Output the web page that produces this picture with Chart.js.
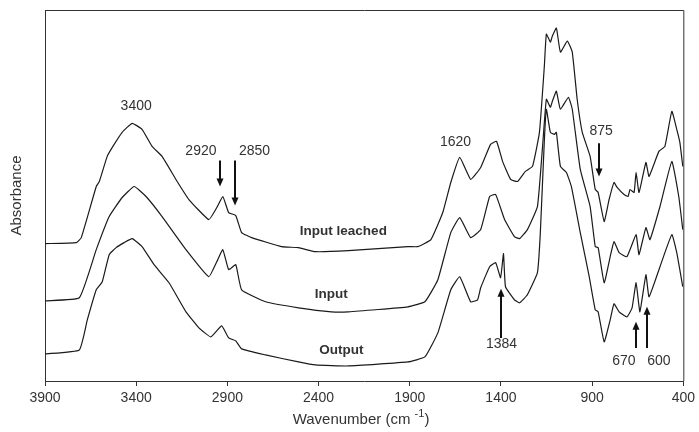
<!DOCTYPE html>
<html>
<head>
<meta charset="utf-8">
<script src="https://cdn.jsdelivr.net/npm/chart.js@4.4.1/dist/chart.umd.min.js"></script>
<style>
  html, body { margin: 0; padding: 0; background: #fff; }
  #wrap { width: 699px; height: 432px; position: relative; }
</style>
</head>
<body>
<div id="wrap"><canvas id="ftir"></canvas></div>
<script>
// spectra (wavenumber in cm-1, absorbance offset units)
const leachedWn = [3900, 3728, 3701, 3619, 3602, 3559, 3531, 3477, 3422, 3368, 3313, 3258, 3182, 3111, 3002, 2958, 2925, 2893, 2854, 2822, 2767, 2603, 2510, 2418, 2237, 1910, 1856, 1784, 1719, 1675, 1626, 1566, 1511, 1457, 1424, 1391, 1347, 1309, 1266, 1227, 1189, 1162, 1151, 1129, 1118, 1096, 1074, 1036, 1009, 982, 954, 911, 883, 867, 834, 807, 780, 763, 725, 703, 692, 670, 659, 643, 605, 588, 534, 501, 463, 436, 419, 403];
const leachedAbs = [137, 138, 143, 194, 199, 224, 233, 248, 257, 251, 234, 224, 201, 181, 161, 173, 184, 168, 165, 148, 143, 134, 133, 129, 130, 134, 134, 141, 168, 198, 223, 201, 213, 236, 239, 219, 201, 199, 209, 214, 248, 314, 346, 338, 344, 352, 328, 339, 328, 281, 248, 224, 191, 188, 159, 181, 198, 193, 186, 184, 191, 188, 208, 188, 218, 204, 229, 234, 269, 251, 238, 214];

const inputWn = [3900, 3712, 3619, 3548, 3477, 3411, 3346, 3258, 3127, 3002, 2958, 2925, 2893, 2854, 2822, 2691, 2510, 2330, 2237, 1910, 1817, 1746, 1675, 1626, 1566, 1511, 1462, 1429, 1380, 1326, 1298, 1255, 1200, 1173, 1151, 1129, 1118, 1096, 1074, 1030, 1009, 965, 911, 883, 867, 834, 801, 780, 752, 709, 659, 643, 605, 583, 528, 463, 425, 403];
const inputAbs = [80, 83, 131, 164, 183, 194, 184, 164, 131, 104, 119, 131, 111, 116, 91, 79, 73, 69, 69, 74, 79, 101, 148, 163, 143, 151, 184, 186, 161, 144, 142, 151, 174, 231, 281, 273, 279, 289, 271, 283, 271, 211, 174, 134, 133, 98, 124, 139, 128, 124, 146, 126, 153, 141, 174, 219, 184, 151];

const outputWn = [3900, 3712, 3668, 3619, 3586, 3548, 3510, 3466, 3422, 3368, 3302, 3220, 3127, 3056, 2991, 2931, 2893, 2854, 2822, 2691, 2510, 2418, 2237, 1910, 1817, 1746, 1675, 1626, 1566, 1528, 1511, 1462, 1429, 1402, 1386, 1375, 1326, 1298, 1255, 1200, 1184, 1162, 1151, 1129, 1107, 1096, 1074, 1041, 1014, 965, 916, 883, 867, 834, 801, 780, 752, 709, 681, 659, 638, 605, 588, 528, 463, 436, 403];
const outputAbs = [27, 31, 61, 91, 99, 126, 133, 138, 142, 134, 116, 98, 69, 53, 44, 55, 43, 40, 32, 26, 19, 16, 15, 19, 24, 48, 91, 104, 79, 81, 93, 114, 118, 103, 127, 94, 81, 78, 86, 108, 148, 240, 271, 248, 246, 248, 214, 208, 194, 148, 104, 71, 69, 39, 61, 77, 69, 64, 73, 98, 69, 106, 84, 114, 146, 128, 94];

const xTicks = [3900, 3400, 2900, 2400, 1900, 1400, 900, 400];

// curve names and where they sit
const seriesNames = ["Input leached", "Input", "Output"];
const nameWn = [2264, 2330, 2275];
const nameAbs = [149, 86, 31];

// peak labels
const peakText = ["3400", "2920", "2850", "1620", "875", "1384", "670", "600"];
const peakWn = [3400, 3045, 2751, 1649, 851, 1397, 726, 534];
const peakAbs = [274, 229, 229, 238, 249, 37, 20, 20];

// arrows: tail -> head
const arrowWn = [2943, 2860, 863, 1397, 659, 601];
const arrowFrom = [220, 220, 237, 43, 33, 33];
const arrowTo = [194, 175, 204, 92, 59, 74];

const zip = (wn, ab) => wn.map((w, i) => ({ x: w, y: ab[i] }));

const lineStyle = {
  borderColor: "#1a1a1a",
  borderWidth: 1.2,
  pointRadius: 0,
  tension: 0.12,
  fill: false,
};

const annotations = {
  id: "annotations",
  afterDraw(chart) {
    const ctx = chart.ctx;
    const xs = chart.scales.x;
    const ys = chart.scales.y;
    const area = chart.chartArea;
    ctx.save();

    // frame top/right
    ctx.strokeStyle = "#333";
    ctx.lineWidth = 1;
    ctx.beginPath();
    ctx.moveTo(area.left, area.top + 0.5);
    ctx.lineTo(area.right + 0.5, area.top + 0.5);
    ctx.lineTo(area.right + 0.5, area.bottom);
    ctx.stroke();

    ctx.fillStyle = "#333";
    ctx.textAlign = "center";
    ctx.textBaseline = "middle";

    ctx.font = "bold 13.5px 'Liberation Sans', Arial, sans-serif";
    seriesNames.forEach((s, i) => {
      ctx.fillText(s, xs.getPixelForValue(nameWn[i]), ys.getPixelForValue(nameAbs[i]));
    });

    ctx.font = "14px 'Liberation Sans', Arial, sans-serif";
    peakText.forEach((t, i) => {
      ctx.fillText(t, xs.getPixelForValue(peakWn[i]), ys.getPixelForValue(peakAbs[i]));
    });

    ctx.strokeStyle = "#111";
    ctx.fillStyle = "#111";
    ctx.lineWidth = 2;
    arrowWn.forEach((w, i) => {
      const x = Math.round(xs.getPixelForValue(w));
      const y0 = ys.getPixelForValue(arrowFrom[i]);
      const y1 = ys.getPixelForValue(arrowTo[i]);
      const dir = y1 > y0 ? 1 : -1;
      ctx.beginPath();
      ctx.moveTo(x, y0);
      ctx.lineTo(x, y1 - dir * 6);
      ctx.stroke();
      ctx.beginPath();
      ctx.moveTo(x, y1);
      ctx.lineTo(x - 3.5, y1 - dir * 8);
      ctx.lineTo(x + 3.5, y1 - dir * 8);
      ctx.closePath();
      ctx.fill();
    });

    // axis titles
    ctx.fillStyle = "#333";
    ctx.font = "15px 'Liberation Sans', Arial, sans-serif";
    const mainText = "Wavenumber (cm ";
    const w1 = ctx.measureText(mainText).width;
    ctx.font = "11px 'Liberation Sans', Arial, sans-serif";
    const w2 = ctx.measureText("-1").width;
    ctx.font = "15px 'Liberation Sans', Arial, sans-serif";
    const w3 = ctx.measureText(")").width;
    let tx = 361 - (w1 + w2 + w3) / 2;
    const ty = 420;
    ctx.textAlign = "left";
    ctx.fillText(mainText, tx, ty);
    ctx.font = "11px 'Liberation Sans', Arial, sans-serif";
    ctx.fillText("-1", tx + w1, ty - 6);
    ctx.font = "15px 'Liberation Sans', Arial, sans-serif";
    ctx.fillText(")", tx + w1 + w2, ty);

    ctx.translate(17, (area.top + area.bottom) / 2);
    ctx.rotate(-Math.PI / 2);
    ctx.textAlign = "center";
    ctx.font = "15px 'Liberation Sans', Arial, sans-serif";
    ctx.fillText("Absorbance", 0, 0);
    ctx.restore();
  },
};

const chart = new Chart(document.getElementById("ftir"), {
  type: "line",
  data: {
    datasets: [
      { label: seriesNames[0], data: zip(leachedWn, leachedAbs), ...lineStyle },
      { label: seriesNames[1], data: zip(inputWn, inputAbs), ...lineStyle },
      { label: seriesNames[2], data: zip(outputWn, outputAbs), ...lineStyle },
    ],
  },
  options: {
    responsive: true,
    maintainAspectRatio: false,
    animation: false,
    layout: { padding: { top: 10, right: 12, left: 0, bottom: 0 } },
    plugins: {
      legend: { display: false },
      tooltip: { enabled: false },
      title: { display: false },
    },
    scales: {
      x: {
        type: "linear",
        reverse: true,
        min: 400,
        max: 3900,
        afterBuildTicks: (axis) => {
          axis.ticks = xTicks.map((v) => ({ value: v }));
        },
        afterFit: (axis) => {
          axis.height = 51;
        },
        grid: { drawOnChartArea: false, tickLength: 5, color: "#333" },
        border: { color: "#333", width: 1 },
        ticks: {
          color: "#333",
          padding: 4,
          maxRotation: 0,
          callback: (v) => String(v),
          font: { family: "'Liberation Sans', Arial, sans-serif", size: 14 },
        },
      },
      y: {
        min: 0,
        max: 370,
        afterFit: (axis) => {
          axis.width = 45;
        },
        grid: { display: false },
        border: { color: "#333", width: 1 },
        ticks: { display: false },
      },
    },
  },
  plugins: [annotations],
});
</script>
</body>
</html>
